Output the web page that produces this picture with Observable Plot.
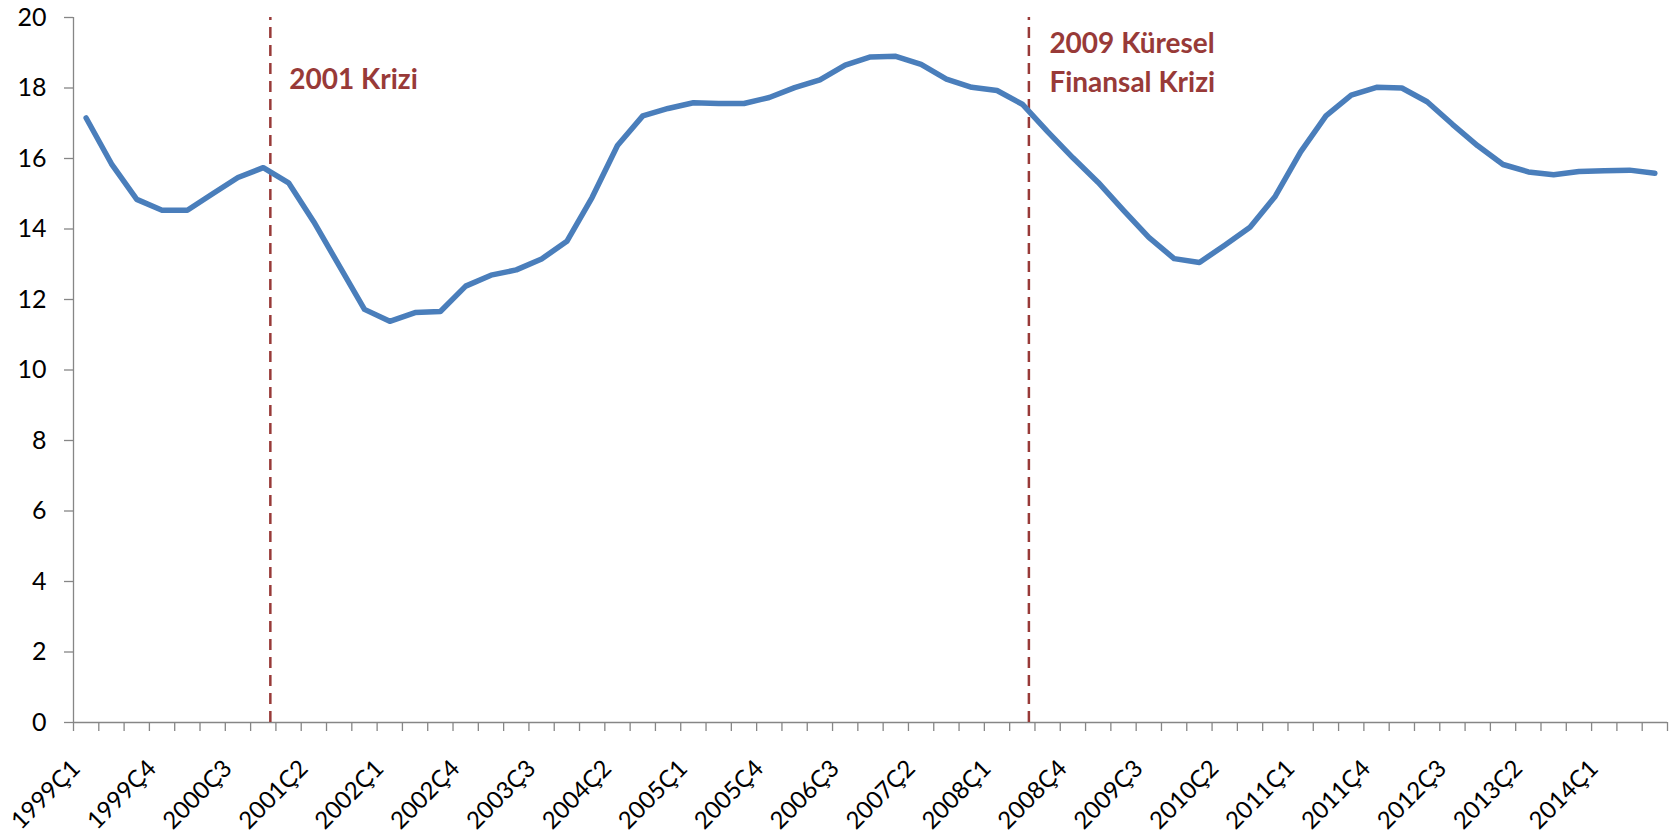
<!DOCTYPE html>
<html><head><meta charset="utf-8">
<script src="https://cdn.jsdelivr.net/npm/d3@7"></script>
<script src="https://cdn.jsdelivr.net/npm/@observablehq/plot@0.6"></script>
<style>html,body{margin:0;padding:0;background:#fff} svg{display:block}</style>
</head><body><div id="chart"></div>
<script>
const quarters = [
  "1999Ç1","1999Ç2","1999Ç3","1999Ç4",
  "2000Ç1","2000Ç2","2000Ç3","2000Ç4",
  "2001Ç1","2001Ç2","2001Ç3","2001Ç4",
  "2002Ç1","2002Ç2","2002Ç3","2002Ç4",
  "2003Ç1","2003Ç2","2003Ç3","2003Ç4",
  "2004Ç1","2004Ç2","2004Ç3","2004Ç4",
  "2005Ç1","2005Ç2","2005Ç3","2005Ç4",
  "2006Ç1","2006Ç2","2006Ç3","2006Ç4",
  "2007Ç1","2007Ç2","2007Ç3","2007Ç4",
  "2008Ç1","2008Ç2","2008Ç3","2008Ç4",
  "2009Ç1","2009Ç2","2009Ç3","2009Ç4",
  "2010Ç1","2010Ç2","2010Ç3","2010Ç4",
  "2011Ç1","2011Ç2","2011Ç3","2011Ç4",
  "2012Ç1","2012Ç2","2012Ç3","2012Ç4",
  "2013Ç1","2013Ç2","2013Ç3","2013Ç4",
  "2014Ç1","2014Ç2","2014Ç3"
];
const values = [
  17.15, 15.85, 14.84, 14.53, 14.53, 15.00, 15.46, 15.74,
  15.31, 14.20, 12.96, 11.72, 11.38, 11.63, 11.66, 12.38,
  12.69, 12.84, 13.15, 13.65, 14.90, 16.37, 17.21, 17.42,
  17.58, 17.56, 17.56, 17.73, 18.01, 18.23, 18.65, 18.88,
  18.90, 18.67, 18.25, 18.02, 17.93, 17.54, 16.76, 16.02,
  15.32, 14.53, 13.76, 13.16, 13.05, 13.54, 14.05, 14.93,
  16.19, 17.21, 17.80, 18.02, 18.00, 17.61, 16.97, 16.36,
  15.83, 15.62, 15.54, 15.63, 15.65, 15.67, 15.58
];
const yTicks = [0, 2, 4, 6, 8, 10, 12, 14, 16, 18, 20];
const crisisLabels = ["2001 Krizi", "2009 Küresel\nFinansal Krizi"];
const crisisLinePos = [7.28, 37.26];   // position on the quarter axis
const crisisLabelPos = [8.03, 38.07];
const crisisLabelY = [17.98, 17.9];

const data = quarters.map((q, i) => ({i, q, v: values[i]}));
const boundaries = d3.range(0, quarters.length + 1).map(k => k - 0.5);
const labelIdx = quarters.map((q, i) => i).filter(i => i % 3 === 0);
const crises = crisisLabels.map((label, k) => ({label, line: crisisLinePos[k], lx: crisisLabelPos[k], ly: crisisLabelY[k]}));

const grey = "#868686";
const red = "#983a38";

const chart = Plot.plot({
  width: 1671, height: 833,
  marginLeft: 73, marginRight: 4, marginTop: 17, marginBottom: 111,
  style: {fontFamily: "Lato, 'Open Sans', sans-serif", fontSize: "25px", color: "#000", background: "#fff"},
  x: {domain: [-0.5, quarters.length - 0.5], label: null, axis: null},
  y: {domain: [0, 20], label: null, axis: null},
  marks: [
    Plot.ruleY([0], {stroke: grey, strokeWidth: 1.3}),
    Plot.ruleX([-0.5], {stroke: grey, strokeWidth: 1.3}),
    Plot.axisX(boundaries, {tickSize: 9, tickFormat: () => "", stroke: grey, strokeWidth: 1.3, label: null}),
    Plot.text(labelIdx, {x: d => d, y: () => 0, text: d => quarters[d], rotate: -45, textAnchor: "end", lineAnchor: "middle", dx: -10, dy: 42, fontSize: 24, fill: "#000"}),
    Plot.axisY(yTicks, {tickSize: 9, tickPadding: 18, stroke: grey, strokeWidth: 1.3, fontSize: 25, fill: "#000", label: null}),
    Plot.ruleX(crises, {x: "line", y1: 0, y2: 20, stroke: red, strokeWidth: 2.5, strokeDasharray: "11,7"}),
    Plot.line(data, {x: "i", y: "v", stroke: "#4a7ebb", strokeWidth: 5.5, strokeLinejoin: "round", strokeLinecap: "round"}),
    Plot.text(crises, {x: "lx", y: "ly", text: "label", textAnchor: "start", lineAnchor: "bottom", lineHeight: 1.38, fill: red, fontWeight: "bold", fontSize: 28})
  ]
});
document.getElementById("chart").appendChild(chart);
</script>
</body></html>
